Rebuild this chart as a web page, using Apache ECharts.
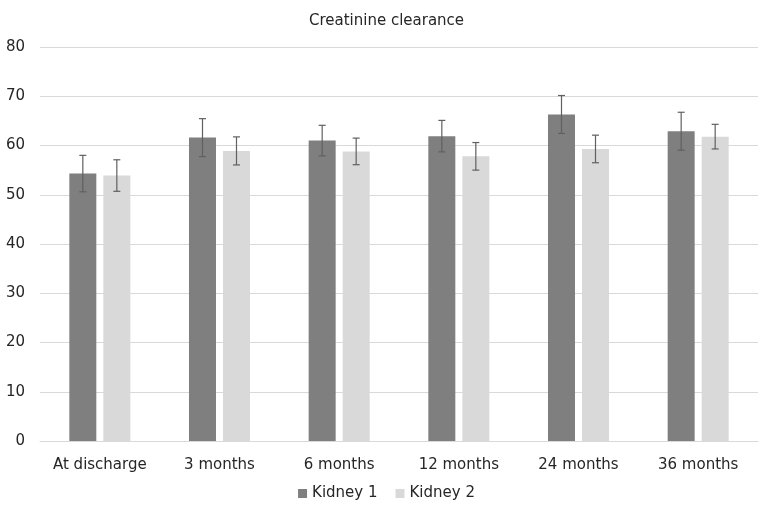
<!DOCTYPE html>
<html>
<head>
<meta charset="utf-8">
<script src="https://cdn.jsdelivr.net/npm/echarts@6/dist/echarts.min.js"></script>
<style>html,body{margin:0;padding:0;background:#fff}#c{width:773px;height:513px}</style>
</head>
<body>
<div id="c"></div>
<script>
const categories = ['At discharge', '3 months', '6 months', '12 months', '24 months', '36 months'];
const kidney1 = [54.3, 61.6, 61.0, 61.9, 66.3, 62.9];
const kidney1Err = [3.7, 3.85, 3.1, 3.2, 3.85, 3.85];
const kidney2 = [53.9, 58.9, 58.8, 57.8, 59.3, 61.8];
const kidney2Err = [3.2, 2.85, 2.7, 2.8, 2.8, 2.5];
const yTicks = [0, 10, 20, 30, 40, 50, 60, 70, 80];

const FONT = '"DejaVu Sans", Verdana, sans-serif';
const TXT = '#262626';
const chart = echarts.init(document.getElementById('c'));

function errData(vals, errs) {
  return vals.map((v, i) => [i, v - errs[i], v + errs[i]]);
}
function errSeries(name, vals, errs, offset) {
  return {
    type: 'custom',
    name: name + ' err',
    z: 10,
    silent: true,
    data: errData(vals, errs),
    encode: { x: 0, y: [1, 2] },
    renderItem: function (params, api) {
      const lo = api.coord([api.value(0), api.value(1)]);
      const hi = api.coord([api.value(0), api.value(2)]);
      const x = lo[0] + offset;
      const cap = 3.5;
      const style = { stroke: '#606060', lineWidth: 1.2 };
      return {
        type: 'group',
        children: [
          { type: 'line', shape: { x1: x, y1: lo[1], x2: x, y2: hi[1] }, style: style },
          { type: 'line', shape: { x1: x - cap, y1: lo[1], x2: x + cap, y2: lo[1] }, style: style },
          { type: 'line', shape: { x1: x - cap, y1: hi[1], x2: x + cap, y2: hi[1] }, style: style }
        ]
      };
    }
  };
}

chart.setOption({
  animation: false,
  textStyle: { fontFamily: FONT },
  title: {
    text: 'Creatinine clearance',
    left: 'center',
    top: 9,
    textStyle: { fontFamily: FONT, fontSize: 15, fontWeight: 'normal', color: TXT }
  },
  legend: {
    data: ['Kidney 1', 'Kidney 2'],
    bottom: 7,
    left: 'center',
    itemWidth: 9,
    itemHeight: 9,
    itemGap: 18,
    icon: 'rect',
    textStyle: { fontFamily: FONT, fontSize: 15, color: TXT }
  },
  grid: { left: 40, right: 15, top: 47, bottom: 72, containLabel: false },
  xAxis: {
    type: 'category',
    data: categories,
    axisLine: { lineStyle: { color: '#d9d9d9', width: 1 } },
    axisTick: { show: false },
    axisLabel: { fontFamily: FONT, fontSize: 15, color: TXT, margin: 17, interval: 0, hideOverlap: false }
  },
  yAxis: {
    type: 'value',
    min: yTicks[0],
    max: yTicks[yTicks.length - 1],
    interval: yTicks[1] - yTicks[0],
    axisLine: { show: false },
    axisTick: { show: false },
    splitLine: { lineStyle: { color: '#d9d9d9', width: 1 } },
    axisLabel: { fontFamily: FONT, fontSize: 15, color: TXT, margin: 15 }
  },
  series: [
    { type: 'bar', name: 'Kidney 1', data: kidney1, barWidth: 27, barGap: '26%', itemStyle: { color: '#7f7f7f' } },
    { type: 'bar', name: 'Kidney 2', data: kidney2, barWidth: 27, barGap: '26%', itemStyle: { color: '#d9d9d9' } },
    errSeries('Kidney 1', kidney1, kidney1Err, -17),
    errSeries('Kidney 2', kidney2, kidney2Err, 17)
  ]
});
</script>
</body>
</html>
